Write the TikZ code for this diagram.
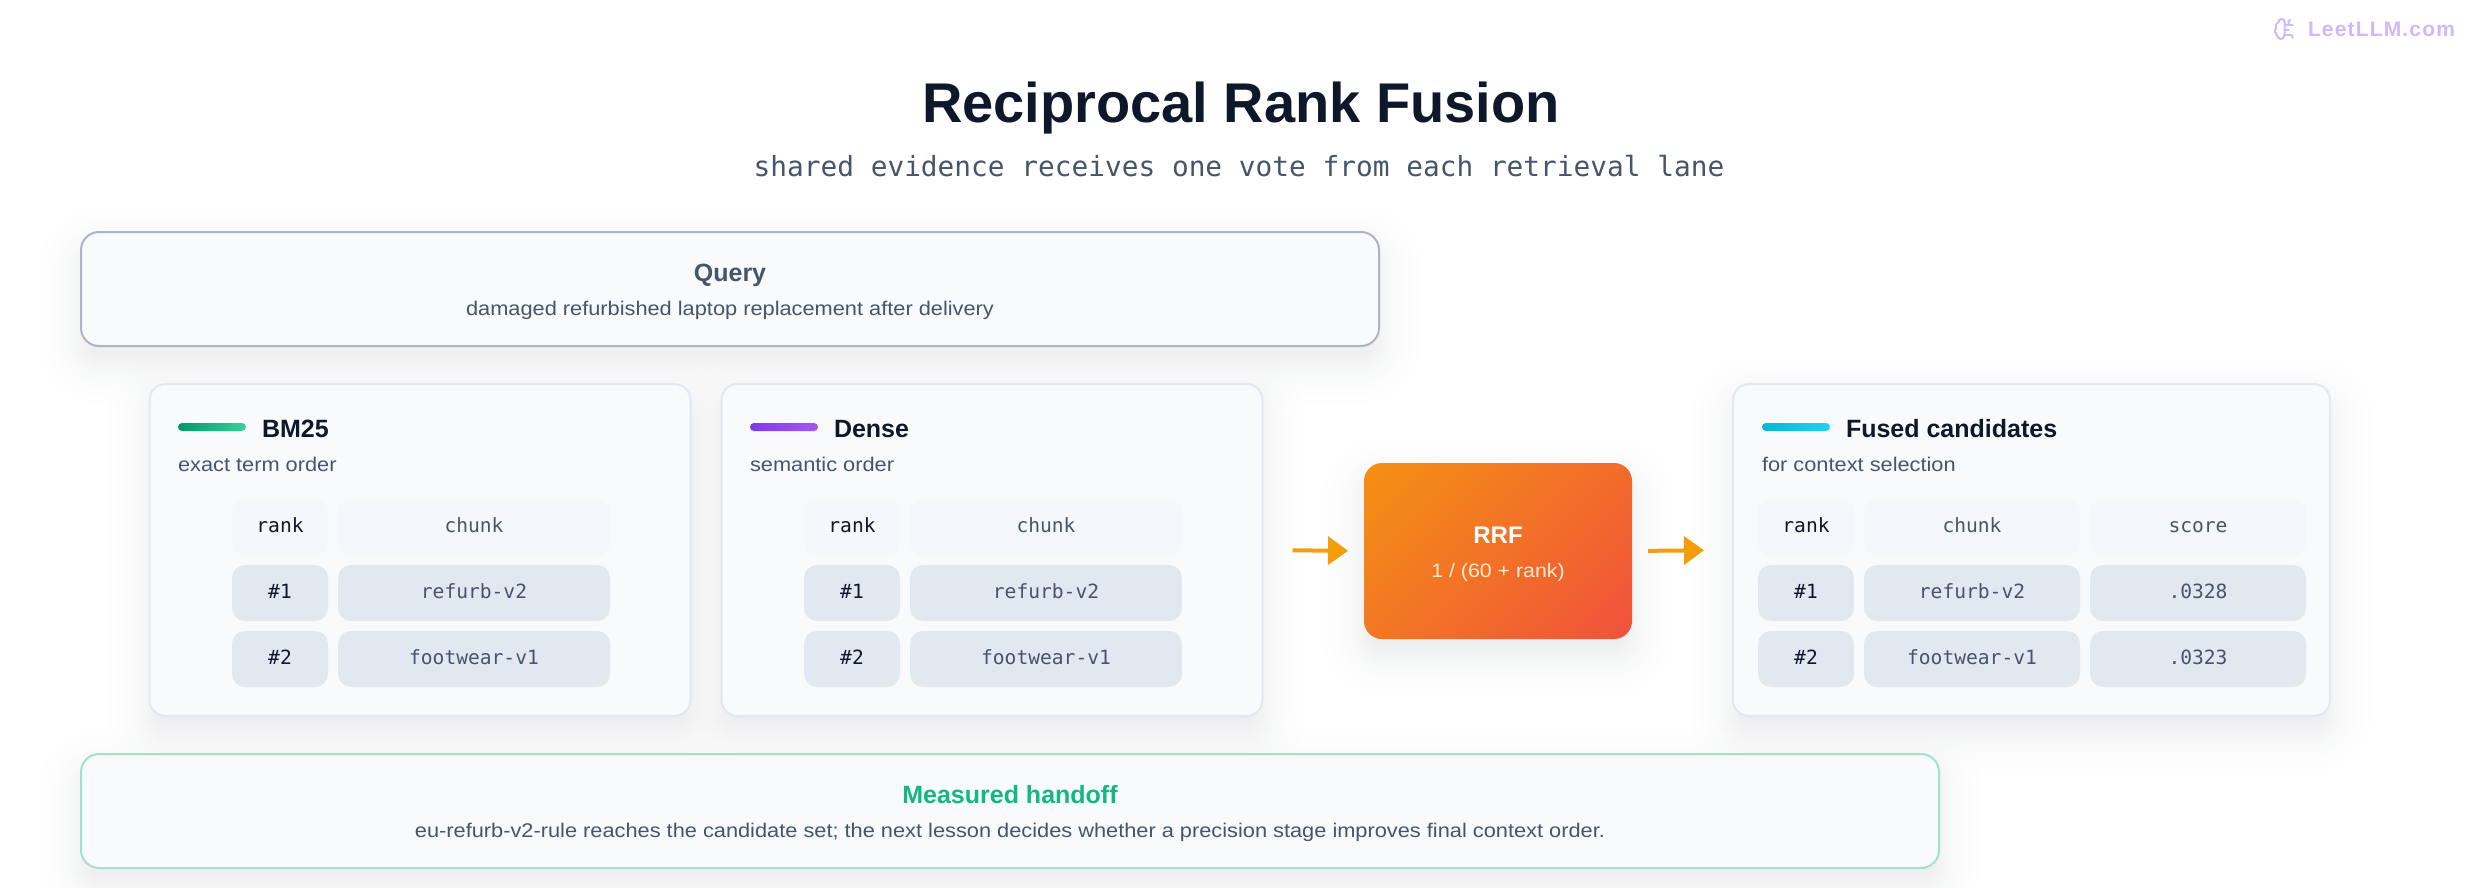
\documentclass[tikz,border=0pt]{standalone}
\usepackage{fontspec}
\setmainfont{Liberation Sans}
\setmonofont{DejaVu Sans Mono}
\newfontfamily\corpo[FakeStretch=1.1]{Liberation Sans}
\usetikzlibrary{calc,
                    backgrounds,
                    arrows.meta}
\definecolor{tinta}{HTML}{0F172A}
\definecolor{cinza}{HTML}{475569}
\definecolor{fundo}{HTML}{F8FAFC}
\definecolor{borda}{HTML}{E2E8F0}
\definecolor{clara}{HTML}{F5F7FB}
\definecolor{contorno}{HTML}{AEB5C1}
\definecolor{laranja}{HTML}{F59E0B}
\definecolor{vermelho}{HTML}{EF4444}
\definecolor{verde}{HTML}{10B981}
\definecolor{verdeb}{HTML}{9FE3CA}
\definecolor{lilas}{HTML}{CDB9FB}
\definecolor{bma}{HTML}{059669}
\definecolor{bmb}{HTML}{34D399}
\definecolor{dna}{HTML}{7C3AED}
\definecolor{dnb}{HTML}{A855F7}
\definecolor{fua}{HTML}{06B6D4}
\definecolor{fub}{HTML}{22D3EE}
\pgfdeclareverticalshading{rrfgrad}{100bp}{color(0bp)=(vermelho); color(100bp)=(laranja)}
\tikzset{
cartao/.style = {draw=borda, line width=2pt, fill=fundo, rounded corners=16pt, inner sep=0pt, outer sep=0pt}
         }
\tikzset{
faixa/.style = {cartao, rounded corners=18pt, minimum height=114pt}
         }
\tikzset{
celula/.style = {fill=borda, rounded corners=13pt, minimum height=56pt, inner sep=0pt, outer sep=0pt,
        text=cinza, text height=14pt, text depth=4pt, font=\ttfamily\fontsize{19.6}{24}\selectfont}
         }
\tikzset{
cabecalho/.style = {celula, fill=clara}
         }
\tikzset{
texto/.style = {inner sep=0pt, outer sep=0pt, text=cinza, font=\corpo\fontsize{19.8}{24}\selectfont}
         }
\tikzset{
forte/.style = {texto, text=tinta, font=\bfseries\fontsize{25}{28}\selectfont}
         }
\tikzset{
traco/.style = {inner sep=0pt, outer sep=0pt, minimum width=68pt, minimum height=8pt, rounded corners=4pt}
         }
\tikzset{
flecha/.style = {draw=laranja, line width=4pt, -{Triangle[length=20pt,width=28pt]}}
         }
\tikzset{
marca/.style = {draw=lilas, line width=2pt, line cap=round, line join=round}
         }
% sombra macia em camadas
\newcommand{\sombra}[2]{
    \begin{scope}[on background layer]
        \foreach \s in {-34,-28,-23,-19,-16,-13,-10,-8,-6,-4,-2,0,2,4,6,8,10,13,16,19,23,28,34,42} {
            \pgfmathsetmacro{\r}{max(2,#2+\s)}
            \fill[tinta, opacity=0.0045, rounded corners=\r pt]
                ($(#1.north west)+(-\s,-\s+16)$) rectangle ($(#1.south east)+(\s,\s+16)$);
        }
    \end{scope}
}
\newcommand{\topo}[6]{
    \node[traco, left color=#4, right color=#5] (#1t) at (#2+34,427) {};
    \node[forte, anchor=base west] (#1n) at (#2+84,437) {#3};
    \node[texto, anchor=base west] (#1s) at (#2,471) {#6};
}
\newcommand{\colunas}[4]{
    \node[cabecalho, minimum width=96pt, text=tinta] (#1r) at (#2,527.5) {rank};
    \node[cabecalho, minimum width=#4 pt] (#1c) at (#3,527.5) {chunk};
    \foreach \y/\i/\nome in {593/1/refurb-v2,659/2/footwear-v1} {
        \node[celula, minimum width=96pt, text=tinta] (#1r\i) at (#2,\y) {\#\i};
        \node[celula, minimum width=#4 pt] (#1c\i) at (#3,\y) {\nome};
    }
}
\begin{document}
\begin{tikzpicture}[x=1pt,y=-1pt]
        \useasboundingbox (0,0) rectangle (2480,888);

        % marca
        \begin{scope}[shift={(2272.5,17)}]
            \draw[marca] (12,18) -- (12,5) .. controls (12,3.3) and (10.7,2) .. (9,2)
                .. controls (7.2,2) and (5.9,3.4) .. (6,5.1) .. controls (3.8,5.7) and (2.2,8.7) .. (3.5,10.9)
                .. controls (1.5,12.5) and (1.8,16.3) .. (4,17.5) .. controls (4.5,20) and (6.5,22) .. (8,22)
                .. controls (10.2,22) and (12,20.2) .. (12,18);
            \draw[marca] (12,13) -- (16,13);
            \draw[marca] (12,18) -- (18,18) .. controls (19.2,18) and (20,18.8) .. (20,20) -- (20,21);
            \draw[marca] (12,8) -- (20,8);
            \draw[marca] (16,8) -- (16,5) .. controls (16,3.8) and (16.8,3) .. (18,3);
        \end{scope}
        \node[texto, anchor=base west, text=lilas, font=\bfseries\fontsize{21}{24}\selectfont] (site) at (2308,37)
            {\addfontfeature{LetterSpace=5.5}LeetLLM.com};

        % titulo
        \node[forte, anchor=base, font=\bfseries\fontsize{56}{60}\selectfont] (titulo) at (1241,122) {Reciprocal Rank Fusion};
        \node[texto, anchor=base, font=\ttfamily\fontsize{27.8}{32}\selectfont] (subtitulo) at (1239,176)
            {shared evidence receives one vote from each retrieval lane};

        % consulta
        \node[faixa, draw=contorno, minimum width=1298pt] (query) at (730,289) {};
        \node[forte, anchor=base, text=cinza] (querya) at (730,281) {Query};
        \node[texto, anchor=base] (queryb) at (730,315) {damaged refurbished laptop replacement after delivery};
        \sombra{query}{18}

        % BM25
        \node[cartao, minimum width=541pt, minimum height=332pt] (bm) at (420,550) {};
        \sombra{bm}{16}
        \topo{bm}{178}{BM25}{bma}{bmb}{exact term order}
        \colunas{bm}{280}{474}{272}

        % Dense
        \begin{scope}[xshift=572pt]
            \node[cartao, minimum width=541pt, minimum height=332pt] (dense) at (420,550) {};
            \sombra{dense}{16}
            \topo{dense}{178}{Dense}{dna}{dnb}{semantic order}
            \colunas{dense}{280}{474}{272}
        \end{scope}

        % RRF
        \node[inner sep=0pt, outer sep=0pt, minimum width=268pt, minimum height=176pt, rounded corners=18pt,
            shading=rrfgrad, shading angle=45] (rrf) at (1498,551) {};
        \sombra{rrf}{18}
        \node[forte, anchor=base, text=white, font=\bfseries\fontsize{24}{28}\selectfont] (rrfa) at (1498,543) {RRF};
        \node[texto, anchor=base, text=white!80!laranja, font=\corpo\fontsize{19.4}{24}\selectfont] (rrfb) at (1498,577) {1 / (60 + rank)};

        % candidatos
        \node[cartao, minimum width=597pt, minimum height=332pt] (fused) at (2031.5,550) {};
        \sombra{fused}{16}
        \topo{fused}{1762}{Fused candidates}{fua}{fub}{for context selection}
        \colunas{fused}{1806}{1972}{216}
        \node[cabecalho, minimum width=216pt] (fusedp) at (2198,527.5) {score};
        \node[celula, minimum width=216pt] (fusedp1) at (2198,593) {.0328};
        \node[celula, minimum width=216pt] (fusedp2) at (2198,659) {.0323};

        % handoff
        \node[faixa, draw=verdeb, minimum width=1858pt] (hand) at (1010,811) {};
        \sombra{hand}{18}
        \node[forte, anchor=base, text=verde] (handa) at (1010,803) {Measured handoff};
        \node[texto, anchor=base] (handb) at (1010,837)
            {eu-refurb-v2-rule reaches the candidate set; the next lesson decides whether a precision stage improves final context order.};

        \draw[flecha, shorten <=30pt, shorten >=16pt] (dense.east) -- (rrf.west);
        \draw[flecha, shorten <=16pt, shorten >=29pt] (rrf.east) -- (fused.west);
    \end{tikzpicture}
\end{document}
